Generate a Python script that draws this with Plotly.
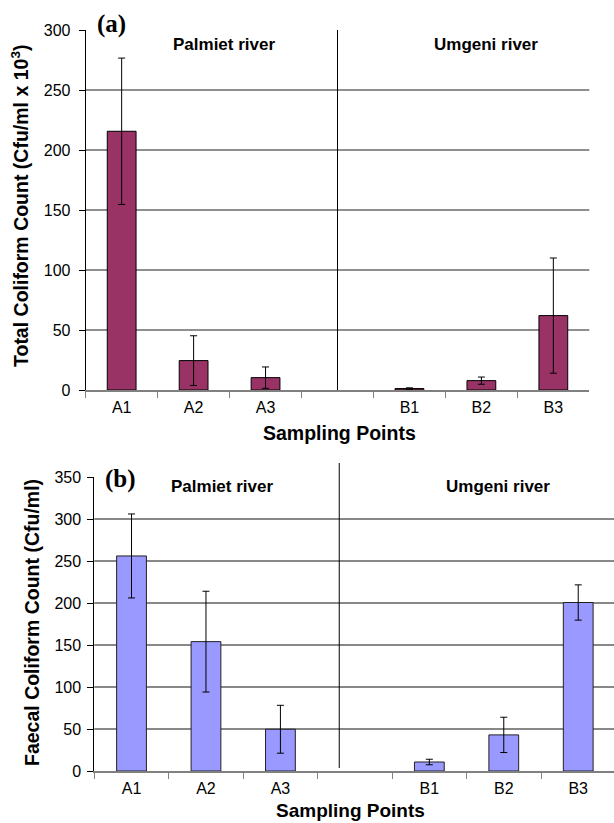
import plotly.graph_objects as go

# ---------------- data ----------------
categories = ["A1", "A2", "A3", " ", "B1", "B2", "B3"]
total_coliform = [215.6, 24.5, 10.3, None, 1.2, 7.8, 62.0]
total_err = [61.0, 20.7, 8.9, 0, 0.6, 3.0, 48.0]
faecal_coliform = [256.0, 154.0, 49.7, None, 10.7, 43.0, 200.6]
faecal_err = [50.0, 60.0, 28.5, 0, 3.3, 21.0, 21.0]
river_labels = ["Palmiet river", "Umgeni river"]
panel_labels = ["(a)", "(b)"]
y_titles = ["Total Coliform Count (Cfu/ml x 10<sup>3</sup>)", "Faecal Coliform Count (Cfu/ml)"]
x_title = "Sampling Points"
top_ticks = [0, 50, 100, 150, 200, 250, 300]
bottom_ticks = [0, 50, 100, 150, 200, 250, 300, 350]

W, H = 614, 823
SANS = "Liberation Sans, Arial, sans-serif"
SERIF = "Liberation Serif, Times New Roman, serif"


def px(x):
    return x / W


def py(y):
    return 1 - y / H


fig = go.Figure()
fig.add_trace(go.Bar(
    x=categories, y=total_coliform, xaxis="x", yaxis="y",
    marker=dict(color="#993366", line=dict(color="black", width=1)),
    error_y=dict(type="data", array=total_err, color="black", thickness=1, width=3.5),
))
fig.add_trace(go.Bar(
    x=categories, y=faecal_coliform, xaxis="x2", yaxis="y2",
    marker=dict(color="#9999FF", line=dict(color="#222222", width=1)),
    error_y=dict(type="data", array=faecal_err, color="black", thickness=1, width=3.5),
))

tickfont = dict(family=SANS, size=16, color="black")
xcommon = dict(type="category", categoryorder="array", categoryarray=categories,
               showline=True, linecolor="#808080", linewidth=1.5, ticks="outside",
               tickson="boundaries", ticklen=6, tickcolor="#808080", tickwidth=1.2,
               tickfont=tickfont, showgrid=False, zeroline=False, automargin=False,
               fixedrange=True, ticklabelstandoff=2)
ycommon = dict(ticks="outside", ticklen=6, tickcolor="black", showline=True,
               linecolor="black", linewidth=1, showgrid=False, zeroline=False,
               tickfont=tickfont, automargin=False, tickmode="array", fixedrange=True)

fig.update_layout(
    width=W, height=H, margin=dict(l=0, r=0, t=0, b=0),
    paper_bgcolor="white", plot_bgcolor="white", showlegend=False,
    bargap=0.6,
    xaxis=dict(xcommon, domain=[px(85.7), px(589.3)], anchor="y", range=[-0.5, 6.5]),
    yaxis=dict(ycommon, domain=[py(390), py(30)], anchor="x", range=[0, 300],
               tickvals=top_ticks, ticklabelstandoff=5),
    xaxis2=dict(xcommon, domain=[px(94.3), 1.0], anchor="y2",
                range=[-0.5, -0.5 + (614 - 94.3) / 74.45]),
    yaxis2=dict(ycommon, domain=[py(771), py(477)], anchor="x2", range=[0, 350],
                tickvals=bottom_ticks, ticklabelstandoff=3),
)

shapes = []
for v in top_ticks[1:-1]:
    shapes.append(dict(type="line", xref="x domain", yref="y", x0=0, x1=1, y0=v, y1=v,
                       line=dict(color="#6a6a6a", width=1.3), layer="below"))
for v in bottom_ticks[1:-1]:
    shapes.append(dict(type="line", xref="x2 domain", yref="y2", x0=0, x1=1, y0=v, y1=v,
                       line=dict(color="#111111", width=1), layer="below"))
# river dividers
shapes.append(dict(type="line", xref="x", yref="y", x0=3, x1=3, y0=0, y1=top_ticks[-1],
                   line=dict(color="black", width=1)))
shapes.append(dict(type="line", xref="x2", yref="paper", x0=2.79, x1=2.79,
                   y0=py(768), y1=py(463), line=dict(color="black", width=1)))
fig.update_layout(shapes=shapes)

ann = []
# panel labels
ann.append(dict(text="<b>%s</b>" % panel_labels[0], x=px(111), y=py(24)))
ann.append(dict(text="<b>%s</b>" % panel_labels[1], x=px(120), y=py(479)))
for a in ann:
    a.update(font=dict(family=SERIF, size=25, color="black"))
rivers = [
    (river_labels[0], 224, 45), (river_labels[1], 485.5, 45),
    (river_labels[0], 222, 486.7), (river_labels[1], 497.5, 486.7),
]
for t, x, y in rivers:
    ann.append(dict(text="<b>%s</b>" % t, x=px(x), y=py(y),
                    font=dict(family=SANS, size=17, color="black")))
# axis titles
ann.append(dict(text="<b>%s</b>" % y_titles[0], x=px(20), y=py(206), textangle=-90,
                font=dict(family=SANS, size=19.5, color="black")))
ann.append(dict(text="<b>%s</b>" % y_titles[1], x=px(32), y=py(623), textangle=-90,
                font=dict(family=SANS, size=19.5, color="black")))
ann.append(dict(text="<b>%s</b>" % x_title, x=px(339), y=py(433),
                font=dict(family=SANS, size=19.5, color="black")))
ann.append(dict(text="<b>%s</b>" % x_title, x=px(350), y=py(810),
                font=dict(family=SANS, size=19, color="black")))
for a in ann:
    a.update(xref="paper", yref="paper", xanchor="center", yanchor="middle",
             showarrow=False, borderpad=0)
fig.update_layout(annotations=ann)

fig.write_html("out.html", config={"displayModeBar": False},
               post_script="document.body.style.margin='0';")
